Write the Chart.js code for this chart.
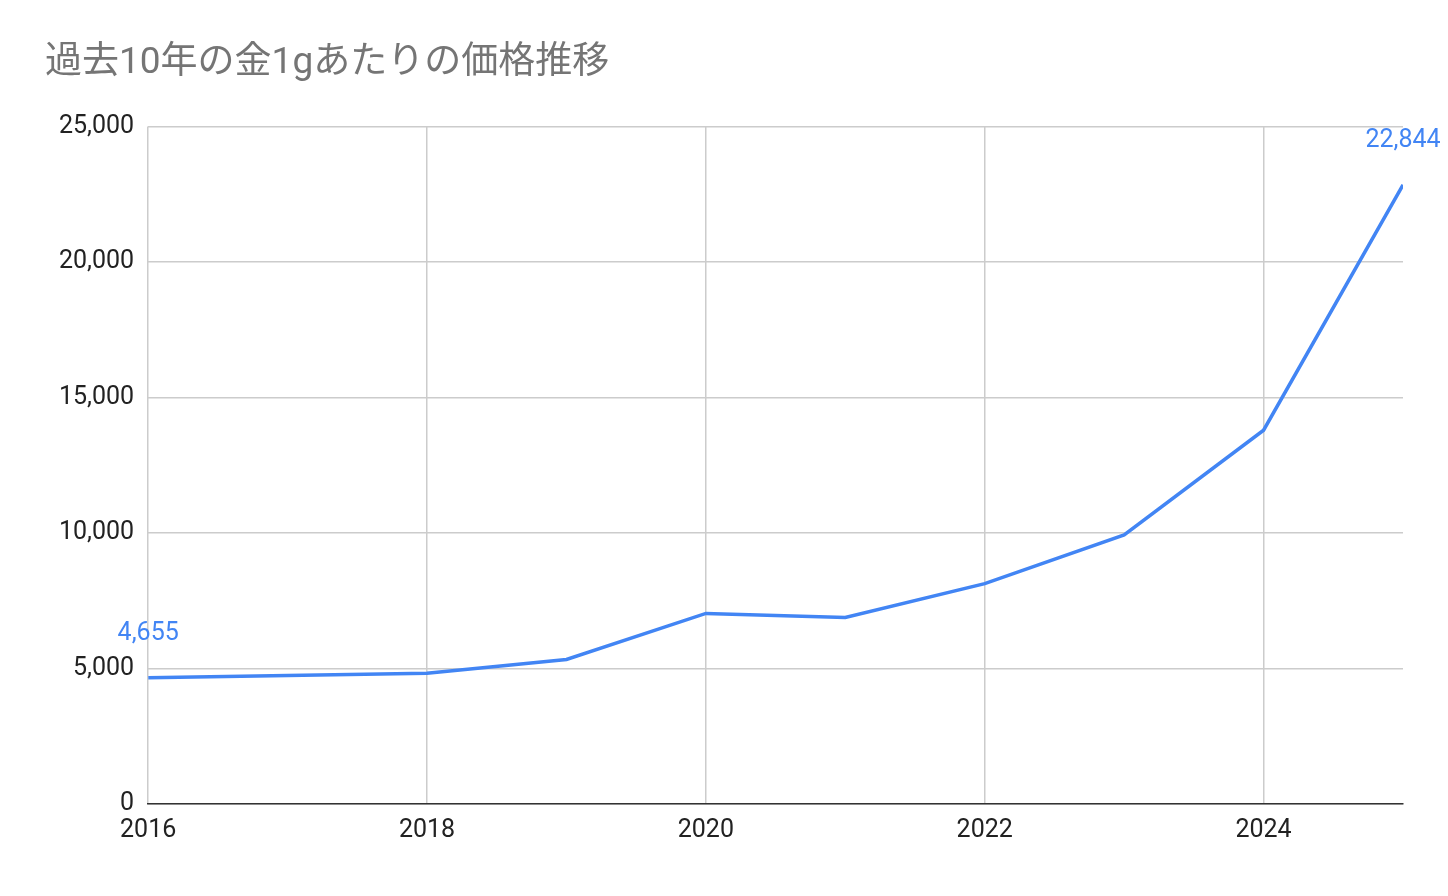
<!DOCTYPE html>
<html>
<head>
<meta charset="utf-8">
<script src="https://cdn.jsdelivr.net/npm/chart.js@4"></script>
<style>
  body { margin: 0; background: #fff; }
  #wrap { width: 1448px; height: 896px; }
</style>
</head>
<body>
<div id="wrap"><canvas id="chart"></canvas></div>
<script>
var years = [2016, 2017, 2018, 2019, 2020, 2021, 2022, 2023, 2024, 2025];
var prices = [4655, 4740, 4820, 5330, 7030, 6880, 8130, 9930, 13790, 22844];
var tickYears = [2016, 2018, 2020, 2022, 2024];
var chartTitle = '過去10年の金1gあたりの価格推移';

var points = years.map(function(y, i) { return { x: y, y: prices[i] }; });

// labels only on first and last point
var endLabels = {
    id: 'endLabels',
    afterDatasetsDraw: function(chart) {
        var ctx = chart.ctx;
        var meta = chart.getDatasetMeta(0);
        var first = meta.data[0];
        var last = meta.data[meta.data.length - 1];
        ctx.save();
        ctx.fillStyle = '#4285f4';
        ctx.font = '25px Roboto, Arial, sans-serif';
        ctx.textAlign = 'center';
        ctx.textBaseline = 'bottom';
        ctx.fillText(prices[0].toLocaleString('en-US'), first.x, first.y - 32);
        ctx.fillText(prices[prices.length - 1].toLocaleString('en-US'), last.x, last.y - 32);
        ctx.restore();
    }
};

new Chart(document.getElementById('chart'), {
    type: 'line',
    data: {
        datasets: [{
            data: points,
            borderColor: '#4285f4',
            borderWidth: 3.5,
            pointRadius: 0,
            tension: 0,
            fill: false
        }]
    },
    options: {
        responsive: true,
        maintainAspectRatio: false,
        animation: false,
        layout: { padding: { left: 45, right: 45, top: 16, bottom: 38 } },
        plugins: {
            legend: { display: false },
            tooltip: { enabled: false },
            title: {
                display: true,
                text: chartTitle,
                align: 'start',
                color: '#757575',
                font: { size: 37, family: 'Roboto, "Noto Sans CJK JP", sans-serif', weight: 'normal' },
                padding: { top: 26, bottom: 40 }
            }
        },
        scales: {
            x: {
                type: 'linear',
                min: 2016,
                max: 2025,
                afterBuildTicks: function(axis) {
                    axis.ticks = tickYears.map(function(v) { return { value: v }; });
                },
                grid: { color: '#cccccc', lineWidth: 1.5, drawTicks: false },
                border: { color: '#333333', width: 1.5 },
                ticks: {
                    color: '#222',
                    padding: 12,
                    font: { size: 25, family: 'Roboto, Arial, sans-serif' },
                    callback: function(v) { return String(v); }
                }
            },
            y: {
                min: 0,
                max: 25000,
                grid: { color: '#cccccc', lineWidth: 1.5, drawTicks: false },
                border: { display: false },
                ticks: {
                    stepSize: 5000,
                    color: '#222',
                    padding: 14,
                    font: { size: 25, family: 'Roboto, Arial, sans-serif' },
                    callback: function(v) { return v.toLocaleString('en-US'); }
                }
            }
        }
    },
    plugins: [endLabels]
});
</script>
</body>
</html>
